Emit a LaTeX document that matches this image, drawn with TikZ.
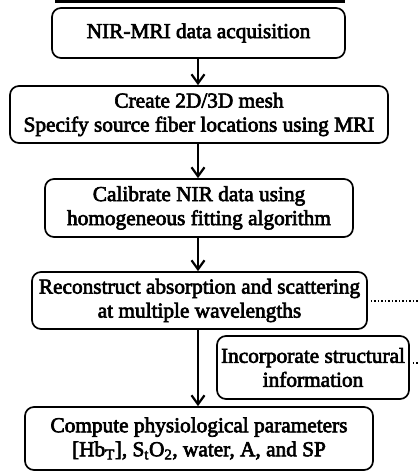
\documentclass[tikz,border=0pt]{standalone}
\usepackage{fontspec}
\setmainfont{Liberation Serif}
\newfontfamily\heavyserif{Liberation Serif}[FakeBold=3]
\usetikzlibrary{arrows.meta}
\begin{document}
\begin{tikzpicture}[x=1pt,y=-1pt,
  stepbox/.style={draw, line width=1.7pt, rounded corners=9pt, align=center,
    inner sep=0pt, font=\heavyserif\fontsize{21.3}{24}\selectfont},
  flow/.style={line width=2.2pt, -{Straight Barb[length=9pt,width=13pt,line width=2.2pt]}},
  link/.style={line width=1.5pt, dotted}]
\useasboundingbox (0,0) rectangle (419,473);
% heavy rule along the top edge
\fill (55,0) rectangle (345,3.5);
% process steps
\node[stepbox, minimum width=293pt, minimum height=50pt] (acq) at (198.5,33) {NIR-MRI data acquisition};
\node[stepbox, minimum width=378pt, minimum height=57pt] (mesh) at (199,114.5)
  {Create 2D/3D mesh\\Specify source fiber locations using MRI};
\node[stepbox, minimum width=308pt, minimum height=58pt] (calib) at (199,208)
  {Calibrate NIR data using\\homogeneous fitting algorithm};
\node[stepbox, minimum width=335pt, minimum height=57pt] (recon) at (199.5,300.5)
  {Reconstruct absorption and scattering\\at multiple wavelengths};
\node[stepbox, minimum width=192pt, minimum height=63pt] (prior) at (313,367.5)
  {Incorporate structural\\information};
\node[stepbox, minimum width=348pt, minimum height=63pt] (phys) at (199,438.5)
  {Compute physiological parameters\\{}[Hb\textsubscript{T}], S\textsubscript{t}O\textsubscript{2}, water, A, and SP};
% flow arrows
\draw[flow] (acq.south -| 198,0) -- (mesh.north -| 198,0);
\draw[flow] (mesh.south -| 198,0) -- (calib.north -| 198,0);
\draw[flow] (calib.south -| 198,0) -- (recon.north -| 198,0);
\draw[flow] (recon.south -| 198,0) -- (phys.north -| 198,0);
% dotted links leaving to the right
\coordinate (reconout) at (419,301);
\coordinate (priorout) at (419,363);
\draw[link] (recon.east |- reconout) ++(3,0) -- (reconout);
\draw[link] (prior.east |- priorout) ++(3,0) -- (priorout);
\end{tikzpicture}
\end{document}
